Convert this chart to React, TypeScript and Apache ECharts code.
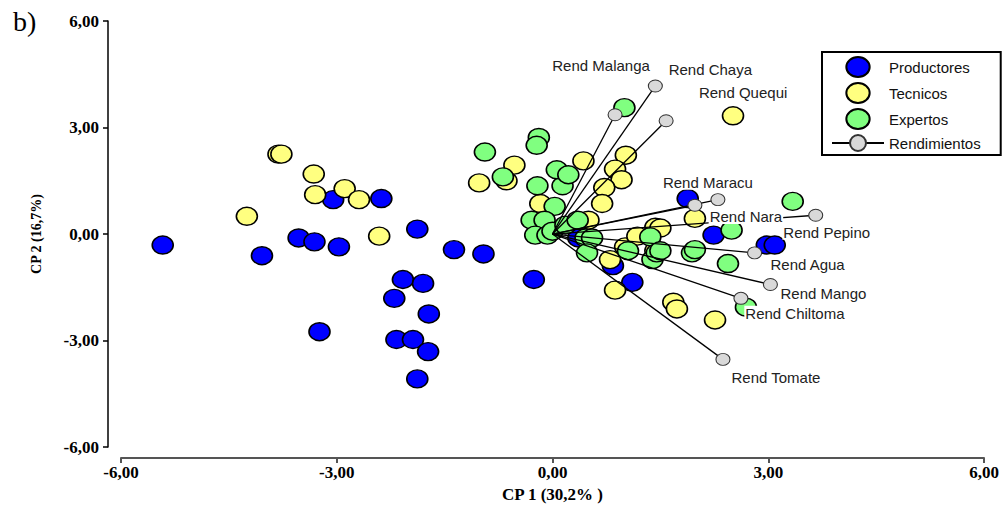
import React, { useEffect, useRef } from "react";
import * as echarts from "echarts";

// ---- Data ----
const productores: [number, number][] = [
  [-5.42, -0.31], [-4.04, -0.61], [-3.53, -0.11], [-3.31, -0.22], [-2.97, -0.36],
  [-3.05, 0.97], [-2.38, 1.0], [-3.24, -2.75], [-1.88, 0.14], [-2.08, -1.28],
  [-1.8, -1.39], [-2.2, -1.81], [-1.72, -2.25], [-2.17, -2.97], [-1.94, -2.97],
  [-1.73, -3.31], [-1.88, -4.08], [-1.37, -0.44], [-0.96, -0.56], [-0.26, -1.28],
  [1.11, -1.36], [0.84, -0.89], [1.88, 1.0], [2.24, -0.03], [2.98, -0.31],
  [3.09, -0.31], [0.36, -0.11],
];

const tecnicos: [number, number][] = [
  [-4.25, 0.5], [-3.81, 2.25], [-3.77, 2.25], [-3.32, 1.69], [-3.3, 1.11],
  [-2.89, 1.28], [-2.69, 0.97], [-2.41, -0.06], [-1.02, 1.44], [-0.64, 1.5],
  [-0.53, 1.94], [-0.17, 0.86], [0.43, 2.06], [1.02, 2.22], [0.87, 1.83],
  [0.96, 1.53], [0.72, 1.31], [0.69, 0.86], [0.5, 0.39], [0.8, -0.72],
  [0.87, -1.58], [1.01, -0.36], [1.18, -0.06], [1.43, 0.19], [1.43, -0.47],
  [1.5, 0.17], [1.98, 0.44], [2.51, 3.33], [1.68, -1.92], [1.73, -2.11],
  [2.26, -2.42],
];

const expertos: [number, number][] = [
  [1.0, 3.56], [-0.19, 2.72], [-0.22, 2.5], [-0.94, 2.31], [-0.69, 1.61],
  [-0.21, 1.36], [0.14, 1.36], [0.06, 1.81], [0.22, 1.67], [0.03, 0.78],
  [-0.29, 0.39], [-0.11, 0.39], [-0.24, -0.03], [-0.07, -0.03], [0.0, 0.08],
  [0.18, 0.25], [0.35, 0.39], [0.46, -0.11], [0.55, -0.11], [0.48, -0.53],
  [1.05, -0.47], [1.36, -0.08], [1.39, -0.72], [1.45, -0.53], [1.5, -0.47],
  [1.94, -0.53], [1.98, -0.44], [2.44, -0.83], [2.49, 0.11], [3.34, 0.92],
  [2.69, -2.06],
];

const vectorNames = [
  "Rend Malanga", "Rend Chaya", "Rend Quequi", "Rend Maracu", "Rend Nara",
  "Rend Pepino", "Rend Agua", "Rend Mango", "Rend Chiltoma", "Rend Tomate",
];
const vectorX = [0.87, 1.43, 1.58, 1.98, 2.3, 3.66, 2.81, 3.03, 2.62, 2.37];
const vectorY = [3.36, 4.17, 3.19, 0.81, 0.97, 0.53, -0.53, -1.42, -1.81, -3.53];

const tickValues = [-6, -3, 0, 3, 6];

// ---- Layout (label placement relative to vector end, px) ----
const vectorLabelOffsets: [number, number][] = [
  [-14, -49], [55, -16], [77, -28], [13, -23], [28, 17],
  [11, 17], [53, 12], [53, 9], [54, 15], [53, 18],
];

const ELLIPSE = "path://M0,9A10.5,9,0,1,1,21,9A10.5,9,0,1,1,0,9Z";
const SMALL_ELLIPSE = "path://M0,6A7,6,0,1,1,14,6A7,6,0,1,1,0,6Z";
const SERIF = "Liberation Serif";
const SANS = "Liberation Sans";

const fmt = (v: number) => v.toFixed(2).replace(".", ",");

export default function App() {
  const ref = useRef<HTMLDivElement>(null);

  useEffect(() => {
    if (!ref.current) return;
    const chart = echarts.init(ref.current, undefined, { renderer: "svg" });

    const pointSeries = [
      { name: "Productores", data: productores, color: "#0000ff" },
      { name: "Tecnicos", data: tecnicos, color: "#ffff80" },
      { name: "Expertos", data: expertos, color: "#80ff80" },
    ].map((s, i) => ({
      type: "scatter",
      name: s.name,
      data: s.data,
      symbol: ELLIPSE,
      symbolSize: [21, 18],
      itemStyle: { color: s.color, borderColor: "#000", borderWidth: 1.5, opacity: 1 },
      z: 2 + i,
      silent: true,
    }));

    const vectorSeries = vectorNames.map((n, i) => ({
      type: "line",
      name: "Rendimientos",
      symbol: SMALL_ELLIPSE,
      symbolSize: [14, 12],
      showSymbol: true,
      lineStyle: { color: "#000", width: 1.3 },
      itemStyle: { color: "#d9d9d9", borderColor: "#333", borderWidth: 1 },
      z: 6,
      silent: true,
      data: [
        { value: [0, 0], symbol: "none" },
        {
          value: [vectorX[i], vectorY[i]],
          name: n,
          label: {
            show: true,
            formatter: n,
            position: "inside",
            offset: vectorLabelOffsets[i],
            fontFamily: SANS,
            fontSize: 15,
            color: "#222",
            backgroundColor: "#fff",
            padding: [0, 1],
          },
        },
      ],
    }));

    chart.setOption({
      animation: false,
      title: {
        text: "b)",
        left: 8,
        top: 2,
        textStyle: { fontFamily: SERIF, fontWeight: "normal", fontSize: 28, color: "#000" },
      },
      grid: { left: 121, right: 19, top: 21, bottom: 54, containLabel: false },
      legend: {
        orient: "vertical",
        left: 822,
        top: 52,
        itemWidth: 52,
        itemHeight: 20,
        itemGap: 4,
        padding: [4, 20, 3, 9],
        borderColor: "#000",
        borderWidth: 2,
        backgroundColor: "#fff",
        selectedMode: false,
        textStyle: { fontFamily: SANS, fontSize: 15, color: "#111" },
        data: [
          { name: "Productores", icon: ELLIPSE },
          { name: "Tecnicos", icon: ELLIPSE },
          { name: "Expertos", icon: ELLIPSE },
          { name: "Rendimientos" },
        ],
      },
      xAxis: {
        type: "value",
        min: tickValues[0],
        max: tickValues[tickValues.length - 1],
        interval: 3,
        offset: 11,
        name: "CP 1 (30,2% )",
        nameLocation: "middle",
        nameGap: 27,
        nameTextStyle: { fontFamily: SERIF, fontWeight: "bold", fontSize: 17, color: "#000" },
        axisLine: { show: true, onZero: false, lineStyle: { color: "#555", width: 2 } },
        axisTick: { show: true, length: 5, lineStyle: { color: "#555", width: 2 } },
        axisLabel: {
          formatter: fmt,
          fontFamily: SERIF,
          fontWeight: "bold",
          fontSize: 17,
          color: "#000",
          margin: 6,
        },
        splitLine: { show: false },
      },
      yAxis: {
        type: "value",
        min: tickValues[0],
        max: tickValues[tickValues.length - 1],
        interval: 3,
        offset: 13,
        name: "CP 2 (16,7%)",
        nameLocation: "middle",
        nameGap: 65,
        nameTextStyle: { fontFamily: SERIF, fontWeight: "bold", fontSize: 14, color: "#000" },
        axisLine: { show: true, onZero: false, lineStyle: { color: "#000", width: 1.5 } },
        axisTick: { show: true, length: 5, lineStyle: { color: "#000", width: 1.5 } },
        axisLabel: {
          formatter: fmt,
          fontFamily: SERIF,
          fontWeight: "bold",
          fontSize: 17,
          color: "#000",
          margin: 9,
        },
        splitLine: { show: false },
      },
      series: [...pointSeries, ...vectorSeries],
    });

    return () => chart.dispose();
  }, []);

  return (
    <div
      ref={ref}
      style={{ position: "absolute", left: 0, top: 0, width: 1003, height: 508, background: "#fff" }}
    />
  );
}
